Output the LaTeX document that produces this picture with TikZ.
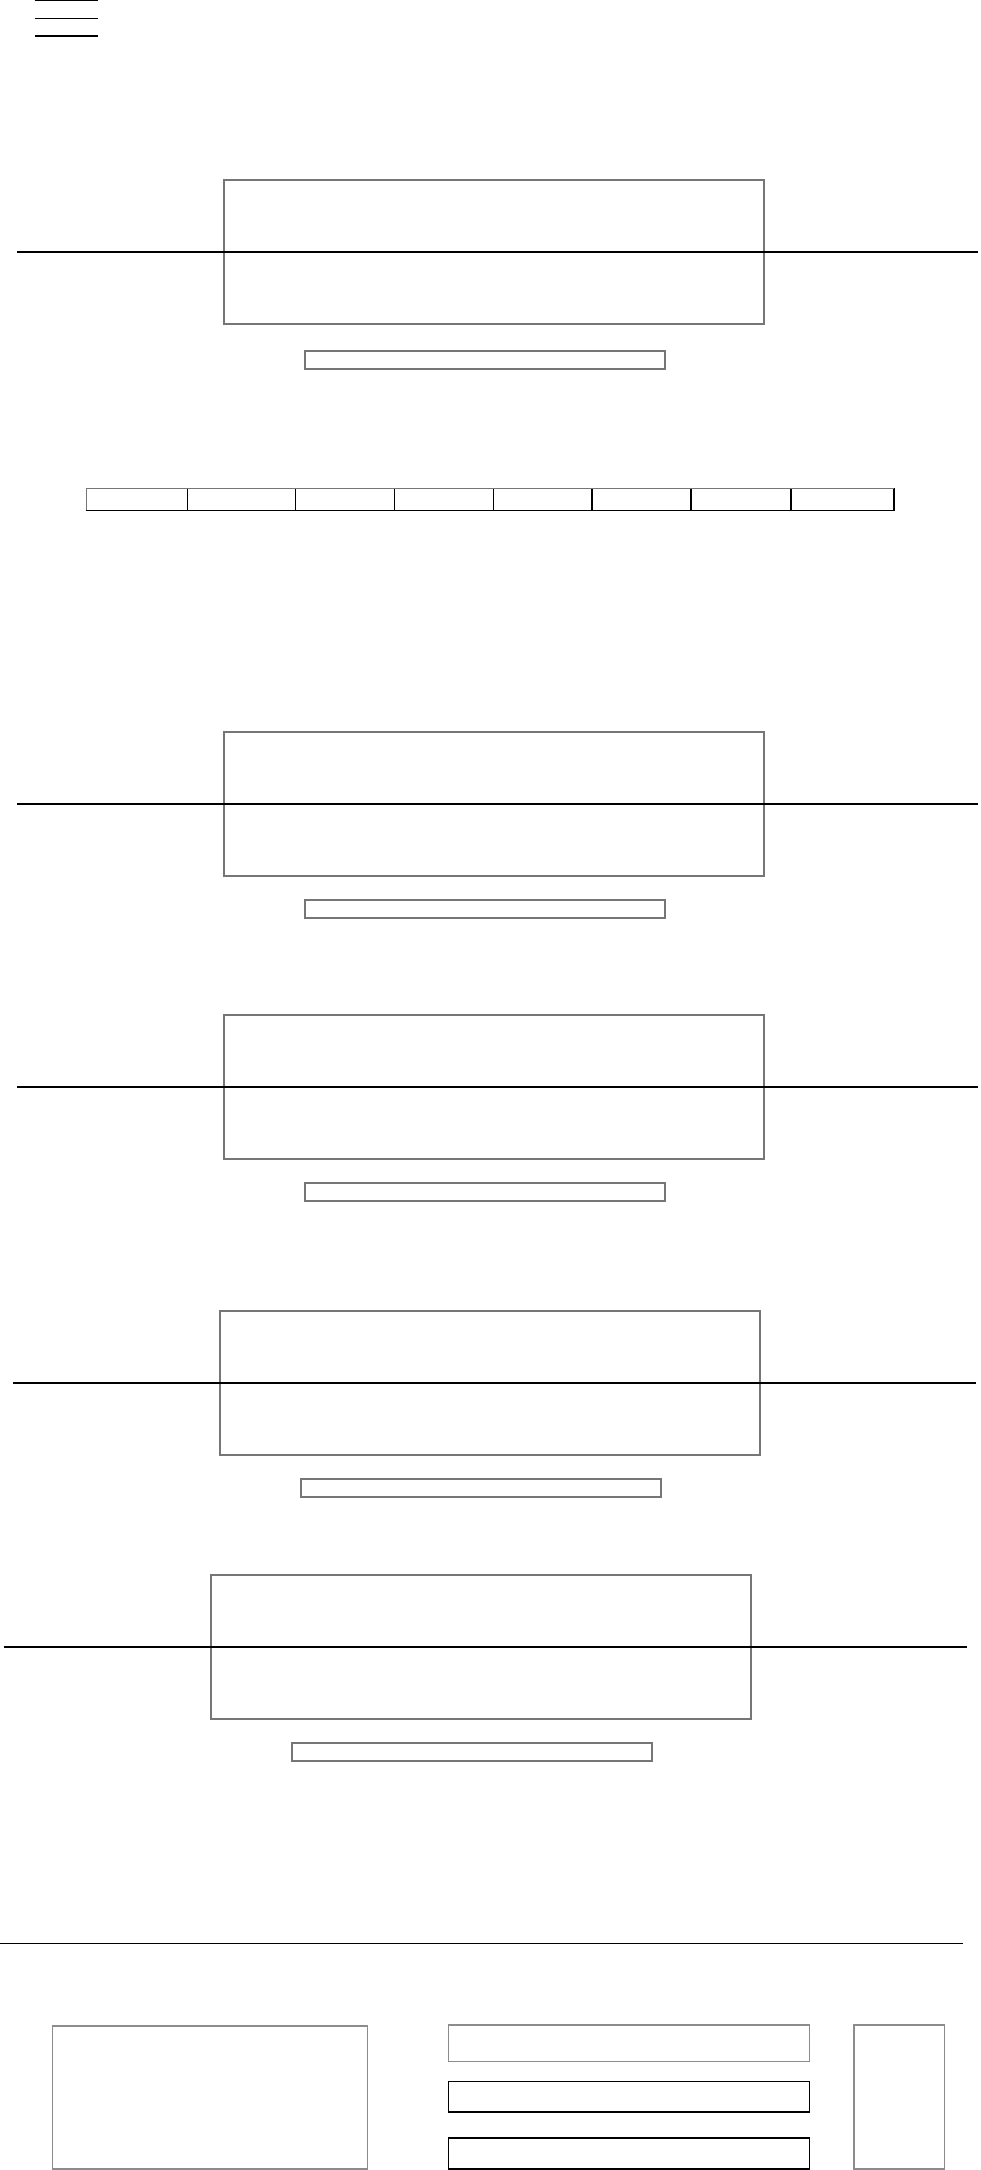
\documentclass[tikz,border=0pt]{standalone}
\begin{document}
\definecolor{boxgray}{RGB}{118,118,118}
\definecolor{litegray}{RGB}{140,140,140}
\begin{tikzpicture}[x=1pt,y=-1pt,
  gbox/.style={rectangle,draw=boxgray,line width=1.4pt,inner sep=0pt,outer sep=0pt},
  lbox/.style={rectangle,draw=litegray,line width=1.2pt,inner sep=0pt,outer sep=0pt},
  kbox/.style={rectangle,draw=black,line width=1.3pt,inner sep=0pt,outer sep=0pt},
  cellbox/.style={rectangle,draw=black,line width=1.2pt,inner sep=0pt,outer sep=0pt,minimum height=22pt},
  bigbox/.style={gbox,minimum width=540pt,minimum height=144pt},
  slimbar/.style={gbox,minimum width=360pt,minimum height=18pt},
  axisline/.style={draw=black,line width=1.1pt}]
\useasboundingbox (0,0) rectangle (980,2170);
\fill[white] (0,0) rectangle (980,2170);

% short lines at the top left
\coordinate (t1a) at (34.7,0.8);  \coordinate (t1b) at (98.3,0.8);
\coordinate (t2a) at (34.7,18.3); \coordinate (t2b) at (98.3,18.3);
\coordinate (t3a) at (34.7,36);   \coordinate (t3b) at (98.3,36);
\draw[axisline] (t1a) -- (t1b);
\draw[axisline] (t2a) -- (t2b);
\draw[axisline] (t3a) -- (t3b);

% group 1
\node[bigbox] (b1) at (494,252) {};
\node[slimbar] (s1) at (485,360) {};
\coordinate (l1a) at (17,252); \coordinate (l1b) at (978,252);
\draw[axisline] (l1a) -- (l1b);

% eight-cell bar
\node[cellbox,minimum width=101pt] (c1) at (136.8,499.2) {};
\node[cellbox,minimum width=108pt] (c2) at (241.3,499.2) {};
\node[cellbox,minimum width=99pt]  (c3) at (344.8,499.2) {};
\node[cellbox,minimum width=99pt]  (c4) at (443.8,499.2) {};
\node[cellbox,minimum width=98.7pt] (c5) at (542.65,499.2) {};
\node[cellbox,minimum width=99pt]  (c6) at (641.5,499.2) {};
\node[cellbox,minimum width=100pt] (c7) at (741,499.2) {};
\node[cellbox,minimum width=103pt] (c8) at (842.5,499.2) {};
\draw[boxgray,line width=1.3pt] (c1.south west) -- (c1.north west) -- (c8.north east);

% group 2
\node[bigbox] (b2) at (494,804) {};
\node[slimbar] (s2) at (485,909) {};
\coordinate (l2a) at (17,804); \coordinate (l2b) at (978,804);
\draw[axisline] (l2a) -- (l2b);

% group 3
\node[bigbox] (b3) at (494,1087) {};
\node[slimbar] (s3) at (485,1192) {};
\coordinate (l3a) at (17,1087); \coordinate (l3b) at (978,1087);
\draw[axisline] (l3a) -- (l3b);

% group 4
\node[bigbox] (b4) at (490,1383) {};
\node[slimbar] (s4) at (481,1488) {};
\coordinate (l4a) at (13,1383); \coordinate (l4b) at (976,1383);
\draw[axisline] (l4a) -- (l4b);

% group 5
\node[bigbox] (b5) at (481,1647) {};
\node[slimbar] (s5) at (472,1752) {};
\coordinate (l5a) at (4,1647); \coordinate (l5b) at (967,1647);
\draw[axisline] (l5a) -- (l5b);

% bottom separator
\coordinate (l6a) at (0,1943.3); \coordinate (l6b) at (963,1943.3);
\draw[draw=black,line width=1.3pt] (l6a) -- (l6b);

% bottom panel
\node[lbox,minimum width=314.6pt,minimum height=143pt] (pl) at (210,2097.5) {};
\node[lbox,minimum width=360.6pt,minimum height=36.3pt] (m1) at (629,2043.2) {};
\node[kbox,minimum width=360.6pt,minimum height=30.3pt] (m2) at (629,2096.9) {};
\node[kbox,minimum width=360.6pt,minimum height=31pt] (m3) at (629,2153.5) {};
\node[lbox,minimum width=90.3pt,minimum height=144pt] (pr) at (899.2,2097) {};
\end{tikzpicture}
\end{document}
